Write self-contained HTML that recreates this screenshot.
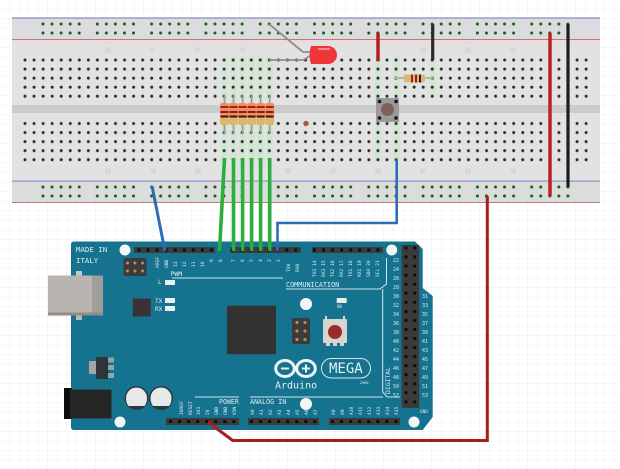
<!DOCTYPE html>
<html><head><meta charset="utf-8"><style>
html,body{margin:0;padding:0;background:#fff}
svg{display:block}
text{font-family:"DejaVu Sans Mono","Liberation Mono",monospace;fill:#dcecf2}
.t{font-size:5px}
.v text{font-size:4.6px}
</style></head><body>
<svg width="620" height="469" viewBox="0 0 620 469" xmlns="http://www.w3.org/2000/svg">
<defs>
<pattern id="grid" width="9.6" height="9.6" patternUnits="userSpaceOnUse"><path d="M9.6 0V9.6H0" fill="none" stroke="#eceef0" stroke-width="1"/></pattern>
<pattern id="h1" x="20.475" y="55.5" width="9.05" height="9.05" patternUnits="userSpaceOnUse"><circle cx="4.525" cy="4.525" r="1.5" fill="#2b2f2f"/></pattern>
<pattern id="h2" x="20.475" y="119" width="9.05" height="9.05" patternUnits="userSpaceOnUse"><circle cx="4.525" cy="4.525" r="1.5" fill="#2b2f2f"/></pattern>
<g id="d5"><circle cx="0" cy="0" r="3" fill="#cde4cd"/><circle cx="0" cy="0" r="1.5" fill="#2f4f35"/></g>
<g id="rg"><use href="#d5" x="0"/><use href="#d5" x="9.05"/><use href="#d5" x="18.1"/><use href="#d5" x="27.15"/><use href="#d5" x="36.2"/></g>
<g id="rr"><use href="#rg" x="43"/><use href="#rg" x="97.3"/><use href="#rg" x="151.6"/><use href="#rg" x="205.9"/><use href="#rg" x="260.2"/><use href="#rg" x="314.5"/><use href="#rg" x="368.8"/><use href="#rg" x="423.1"/><use href="#rg" x="477.4"/><use href="#rg" x="531.7"/></g>
<g id="res"><rect x="-.9" y="-8" width="1.8" height="39" fill="#8aa596"/><rect x="-4.4" y="0" width="8.8" height="22" rx="2" fill="#e2b56c"/><rect x="-4.4" y="0" width="8.8" height="15" rx="2" fill="#f0905f"/><rect x="-4" y="3" width="8" height="2" fill="#a81f1f"/><rect x="-4" y="8" width="8" height="2" fill="#8a1c14"/><rect x="-4" y="12.5" width="8" height="2" fill="#3a1a10"/></g>
<filter id="b"><feGaussianBlur stdDeviation="0.35"/></filter>
</defs>
<rect width="620" height="469" fill="#fff"/>
<rect width="620" height="469" fill="url(#grid)"/>

<g filter="url(#b)">
<!-- breadboard -->
<rect x="12" y="17" width="588" height="186" fill="#e2e2e2"/>
<rect x="12" y="18" width="588" height="21" fill="#dcdce0"/>
<rect x="12" y="39" width="588" height="6" fill="#e8dcdc"/>
<rect x="12" y="181" width="588" height="21" fill="#dcdcdc"/>
<rect x="12" y="105" width="588" height="8" fill="#cbcbcb"/>
<rect x="12" y="17.5" width="588" height="1.2" fill="#8f8fc8"/>
<rect x="12" y="39" width="588" height="1" fill="#c07878"/>
<rect x="12" y="180.5" width="588" height="1.2" fill="#8f8fc8"/>
<rect x="12" y="202" width="588" height="1" fill="#c07878"/>
<!-- green connected strips -->
<g fill="#d0e6d0">
<rect x="221.5" y="57" width="6" height="42"/><rect x="230.5" y="57" width="6" height="42"/><rect x="239.5" y="57" width="6" height="42"/><rect x="248.5" y="57" width="6" height="42"/><rect x="257.5" y="57" width="6" height="42"/><rect x="266.5" y="57" width="6" height="42"/>
<rect x="221.5" y="120" width="6" height="42"/><rect x="230.5" y="120" width="6" height="42"/><rect x="239.5" y="120" width="6" height="42"/><rect x="248.5" y="120" width="6" height="42"/><rect x="257.5" y="120" width="6" height="42"/><rect x="266.5" y="120" width="6" height="42"/>
<rect x="375" y="57" width="6" height="42"/><rect x="393.5" y="57" width="6" height="42"/><rect x="429.5" y="57" width="6" height="42"/>
<rect x="375" y="120" width="6" height="42"/><rect x="393.5" y="120" width="6" height="42"/>
</g>
<rect x="20.475" y="55.5" width="525" height="45.25" fill="url(#h1)"/>
<rect x="20.475" y="119" width="525" height="45.25" fill="url(#h2)"/>
<rect x="554.4" y="55.5" width="9.05" height="45.25" fill="url(#h1)"/>
<rect x="572.5" y="55.5" width="18.1" height="45.25" fill="url(#h1)"/>
<rect x="554.4" y="119" width="9.05" height="45.25" fill="url(#h2)"/>
<rect x="572.5" y="119" width="18.1" height="45.25" fill="url(#h2)"/>
<use href="#rr" y="24"/><use href="#rr" y="33"/><use href="#rr" y="187"/><use href="#rr" y="196"/>
<g fill="#d8d8d8"><rect x="105" y="47" width="6" height="6"/><rect x="150" y="47" width="5" height="5"/><rect x="195" y="47" width="5" height="5"/><rect x="240" y="47" width="5" height="5"/><rect x="420" y="47" width="6" height="6"/><rect x="465" y="47" width="6" height="6"/><rect x="510" y="47" width="6" height="6"/><rect x="105" y="168" width="6" height="6"/><rect x="150" y="168" width="6" height="6"/><rect x="195" y="168" width="6" height="6"/><rect x="285" y="168" width="6" height="6"/><rect x="330" y="168" width="6" height="6"/><rect x="375" y="168" width="6" height="6"/><rect x="420" y="168" width="6" height="6"/><rect x="465" y="168" width="6" height="6"/><rect x="510" y="168" width="6" height="6"/></g>

<!-- arduino -->
<path d="M74 241.5H415L422.7 249V288L432.7 296V417L422.7 430H74Q71 430 71 427V244.5Q71 241.5 74 241.5Z" fill="#17738f"/>
<!-- usb -->
<rect x="76" y="271" width="6" height="5" fill="#c8c8c8"/><rect x="76" y="315" width="6" height="5" fill="#b8b8b8"/>
<rect x="48" y="275.5" width="55" height="40" fill="#b7b4b2"/><rect x="92" y="275.5" width="11" height="40" fill="#a09d9b"/><rect x="48" y="312.5" width="55" height="3" fill="#8f8c8a"/>
<!-- jack -->
<rect x="64" y="388" width="8" height="31" fill="#111"/><rect x="70" y="389.5" width="41.5" height="29" fill="#272525"/>
<!-- regulator -->
<rect x="89" y="361" width="7" height="13" fill="#a5a5a5"/><rect x="96" y="357" width="12.5" height="22" fill="#2e3438"/>
<rect x="108" y="357.5" width="6" height="5" fill="#8fa5ad"/><rect x="108" y="365" width="6" height="5" fill="#8fa5ad"/><rect x="108" y="373" width="6" height="5" fill="#8fa5ad"/>
<!-- caps -->
<circle cx="136.5" cy="398" r="12" fill="#2b3a40"/><circle cx="161" cy="398" r="12" fill="#2b3a40"/>
<path d="M126 398A10.5 10.5 0 0 1 147 398Q147 403 144.5 406H128.5Q126 403 126 398Z" fill="#e8e8ea"/>
<path d="M150.5 398A10.5 10.5 0 0 1 171.5 398Q171.5 403 169 406H153Q150.5 403 150.5 398Z" fill="#e8e8ea"/>
<!-- chips -->
<rect x="132.7" y="298.5" width="18" height="18" fill="#3a3335"/>
<rect x="227" y="305.7" width="49" height="48.5" fill="#333133"/>
<!-- ICSP -->
<rect x="123.5" y="258" width="23" height="18" rx="2" fill="#3a3a3c"/>
<g fill="#b58d55"><circle cx="127.5" cy="263" r="1.5"/><circle cx="135" cy="263" r="1.5"/><circle cx="142.5" cy="263" r="1.5"/><circle cx="127.5" cy="271" r="1.5"/><circle cx="135" cy="271" r="1.5"/><circle cx="142.5" cy="271" r="1.5"/></g>
<rect x="292" y="318" width="18" height="26" rx="2" fill="#3a3a3c"/>
<g fill="#b58d55"><circle cx="297" cy="322.5" r="1.6"/><circle cx="305" cy="322.5" r="1.6"/><circle cx="297" cy="331" r="1.6"/><circle cx="305" cy="331" r="1.6"/><circle cx="297" cy="339.5" r="1.6"/><circle cx="305" cy="339.5" r="1.6"/></g>
<!-- headers -->
<g fill="#3a3a3a">
<rect x="134" y="247" width="81" height="6"/><rect x="230" y="247" width="71" height="6"/><rect x="312" y="247" width="71" height="6"/>
<rect x="166" y="418" width="73" height="7"/><rect x="248" y="418" width="71" height="7"/><rect x="329" y="418" width="71" height="7"/>
<rect x="401.7" y="245" width="17.5" height="163"/>
</g>
<g stroke="#111" stroke-width="3" stroke-dasharray="3 6.05" fill="none">
<path d="M137.5 250H215"/><path d="M231 250H301"/><path d="M313 250H383"/>
<path d="M169 421.5H239"/><path d="M250 421.5H319"/><path d="M331 421.5H400"/>
<path d="M406 246.5V408"/><path d="M414.7 246.5V408"/>
</g>
<!-- white holes -->
<g fill="#f4f6f6"><circle cx="125" cy="250" r="5.5"/><circle cx="120" cy="422" r="5.5"/><circle cx="306" cy="304" r="6"/><circle cx="306" cy="404" r="6"/><circle cx="391.7" cy="250" r="5.5"/><circle cx="414" cy="422" r="5.5"/></g>
<!-- LEDs -->
<g fill="#e9eff0"><rect x="165" y="280" width="10" height="5"/><rect x="165" y="298" width="10" height="5"/><rect x="165" y="306" width="10" height="5"/><rect x="336.7" y="298" width="10" height="5"/></g>
<!-- reset -->
<rect x="323" y="319" width="24" height="24" rx="1" fill="#d8d4cf"/><rect x="325" y="316" width="2" height="4" fill="#d8d4cf"/><rect x="343" y="316" width="2" height="4" fill="#d8d4cf"/>
<rect x="326" y="342" width="4" height="4" fill="#d8d4cf"/><rect x="333" y="342" width="4" height="4" fill="#d8d4cf"/><rect x="340" y="342" width="4" height="4" fill="#d8d4cf"/>
<circle cx="335" cy="332" r="7" fill="#9b2b2b"/>
<!-- silkscreen lines -->
<g stroke="#cfe6ee" stroke-width="1" fill="none">
<path d="M172 278H283"/>
<path d="M286 289H380L386.5 284V258"/>
<path d="M382.7 289V392L387 397H400"/>
<path d="M250 397H383"/>
<path d="M195 397H239"/>
</g>
<!-- logo -->
<g fill="none" stroke="#eaf3f6" stroke-width="3"><ellipse cx="285" cy="368.5" rx="9.3" ry="8"/><ellipse cx="306" cy="368.5" rx="9.3" ry="8"/></g>
<g fill="#eaf3f6"><rect x="281" y="367.5" width="8" height="2"/><rect x="302" y="367.5" width="8" height="2"/><rect x="305" y="364.5" width="2" height="8"/></g>
<rect x="321.5" y="358.5" width="49" height="19.5" rx="9.7" fill="none" stroke="#d5e6ec" stroke-width="1"/>
<text x="329" y="373" style="font-size:14px;fill:#e6f0f3">MEGA</text>
<text x="275" y="388.5" style="font-size:10px;fill:#e6f0f3">Arduino</text>
<text x="360" y="384" style="font-size:3.5px">2560</text>
<text x="76" y="252" style="font-size:7.4px">MADE IN</text>
<text x="76" y="263" style="font-size:7.4px">ITALY</text>
<text x="170.5" y="276" style="font-size:6.4px">PWM</text>
<text x="158" y="284" style="font-size:6px">L</text>
<text x="155" y="303" style="font-size:6px">TX</text>
<text x="155" y="311" style="font-size:6px">RX</text>
<text x="337" y="308" style="font-size:4px">ON</text>
<text x="286" y="287" style="font-size:6.8px">COMMUNICATION</text>
<text x="219" y="404" style="font-size:6.6px">POWER</text>
<text x="250" y="404" style="font-size:6.7px">ANALOG IN</text>
<text x="420" y="413" style="font-size:4.4px">GND</text>
<text transform="translate(390,394) rotate(-90)" style="font-size:6.4px">DIGITAL</text>
<g class="v">
<text transform="translate(159,268) rotate(-90)">AREF</text><text transform="translate(168,268) rotate(-90)">GND</text>
<text transform="translate(177,267) rotate(-90)">13</text><text transform="translate(186,267) rotate(-90)">12</text><text transform="translate(195,267) rotate(-90)">11</text><text transform="translate(204,267) rotate(-90)">10</text><text transform="translate(213,262) rotate(-90)">9</text><text transform="translate(222,262) rotate(-90)">8</text>
<text transform="translate(235,262) rotate(-90)">7</text><text transform="translate(244,262) rotate(-90)">6</text><text transform="translate(253,262) rotate(-90)">5</text><text transform="translate(262,262) rotate(-90)">4</text><text transform="translate(271,262) rotate(-90)">3</text><text transform="translate(280,262) rotate(-90)">2</text>
<text transform="translate(290,272) rotate(-90)">TX0</text><text transform="translate(299,272) rotate(-90)">RX0</text>
<text transform="translate(316,277) rotate(-90)">TX3 14</text><text transform="translate(325,277) rotate(-90)">RX3 15</text><text transform="translate(334,277) rotate(-90)">TX2 16</text><text transform="translate(343,277) rotate(-90)">RX2 17</text><text transform="translate(352,277) rotate(-90)">TX1 18</text><text transform="translate(361,277) rotate(-90)">RX1 19</text><text transform="translate(370,277) rotate(-90)">SDA 20</text><text transform="translate(379,277) rotate(-90)">SCL 21</text>
<text transform="translate(183,415) rotate(-90)">IOREF</text><text transform="translate(192,415) rotate(-90)">RESET</text><text transform="translate(200,415) rotate(-90)">3V3</text><text transform="translate(209,415) rotate(-90)">5V</text><text transform="translate(218,415) rotate(-90)">GND</text><text transform="translate(227,415) rotate(-90)">GND</text><text transform="translate(236,415) rotate(-90)">VIN</text>
<text transform="translate(254,415) rotate(-90)">A0</text><text transform="translate(263,415) rotate(-90)">A1</text><text transform="translate(272,415) rotate(-90)">A2</text><text transform="translate(281,415) rotate(-90)">A3</text><text transform="translate(290,415) rotate(-90)">A4</text><text transform="translate(299,415) rotate(-90)">A5</text><text transform="translate(308,415) rotate(-90)">A6</text><text transform="translate(317,415) rotate(-90)">A7</text>
<text transform="translate(335,415) rotate(-90)">A8</text><text transform="translate(344,415) rotate(-90)">A9</text><text transform="translate(353,415) rotate(-90)">A10</text><text transform="translate(362,415) rotate(-90)">A11</text><text transform="translate(371,415) rotate(-90)">A12</text><text transform="translate(380,415) rotate(-90)">A13</text><text transform="translate(389,415) rotate(-90)">A14</text><text transform="translate(398,415) rotate(-90)">A15</text>
</g>
<g style="font-size:5px">
<text x="393" y="262" class="t">22</text><text x="393" y="271" class="t">24</text><text x="393" y="280" class="t">26</text><text x="393" y="289" class="t">28</text><text x="393" y="298" class="t">30</text><text x="393" y="307" class="t">32</text><text x="393" y="316" class="t">34</text><text x="393" y="325" class="t">36</text><text x="393" y="334" class="t">38</text><text x="393" y="343" class="t">40</text><text x="393" y="352" class="t">42</text><text x="393" y="361" class="t">44</text><text x="393" y="370" class="t">46</text><text x="393" y="379" class="t">48</text><text x="393" y="388" class="t">50</text><text x="393" y="397" class="t">52</text>
<text x="422" y="298" class="t">31</text><text x="422" y="307" class="t">33</text><text x="422" y="316" class="t">35</text><text x="422" y="325" class="t">37</text><text x="422" y="334" class="t">39</text><text x="422" y="343" class="t">41</text><text x="422" y="352" class="t">43</text><text x="422" y="361" class="t">45</text><text x="422" y="370" class="t">47</text><text x="422" y="379" class="t">49</text><text x="422" y="388" class="t">51</text><text x="422" y="397" class="t">53</text>
</g>
<!-- parts on board -->
<path d="M269 24L303 52H311" fill="none" stroke="#8d8d8d" stroke-width="1.8"/>
<path d="M269 60H303L310 56" fill="none" stroke="#8d8d8d" stroke-width="1.8"/>
<path d="M311 46H328A9 9 0 0 1 337 55A9 9 0 0 1 328 64H311Q308 55 311 46Z" fill="#ee3438"/>
<path d="M318 49H330" stroke="#f88" stroke-width="2"/>
<use href="#res" x="224.5" y="103"/><use href="#res" x="233.5" y="103"/><use href="#res" x="242.6" y="103"/><use href="#res" x="251.6" y="103"/><use href="#res" x="260.6" y="103"/><use href="#res" x="269.7" y="103"/>
<circle cx="306" cy="123.5" r="2.7" fill="#a55a48"/>
<rect x="395" y="77" width="38" height="2" fill="#a8bfa0"/>
<rect x="404" y="74.5" width="21" height="8" rx="2" fill="#dcb878"/>
<rect x="411" y="74.5" width="2" height="8" fill="#a81f1f"/><rect x="415" y="74.5" width="2" height="8" fill="#8a2418"/><rect x="419" y="74.5" width="2" height="8" fill="#3a1a10"/>
<rect x="376" y="98" width="23" height="24" fill="#9a9a98"/><circle cx="387.5" cy="109.5" r="6.5" fill="#7d615c"/>
<g fill="#161616"><circle cx="379.5" cy="101.5" r="1.8"/><circle cx="396" cy="101.5" r="1.8"/><circle cx="379.5" cy="118" r="1.8"/><circle cx="396" cy="118" r="1.8"/></g>
<!-- wires -->
<g fill="none" stroke-linejoin="miter">
<g stroke="#2aaf3e" stroke-width="3.6">
<path d="M224.5 158L219.5 251"/><path d="M233.5 158V251"/><path d="M242.6 158V251"/><path d="M251.6 158V251"/><path d="M260.6 158V251"/><path d="M269.7 158V251"/>
</g>
<g stroke="#2d6db5" stroke-width="2.6">
<path d="M152 186L165 251" stroke-width="3"/>
<path d="M396.7 159V223H277.5V251"/>
</g>
<path d="M487.3 196V440.5H232.7L208 422" stroke="#a81d1d" stroke-width="3"/>
<path d="M378 33V61" stroke="#b91f1f" stroke-width="3.5"/>
<path d="M432.7 24V60" stroke="#2c2c2c" stroke-width="3.2"/>
<path d="M550 33V196" stroke="#bd2020" stroke-width="3.5"/>
<path d="M568 24V187" stroke="#1e1e1e" stroke-width="3.2"/>
</g>
</g>
</svg>
</body></html>
